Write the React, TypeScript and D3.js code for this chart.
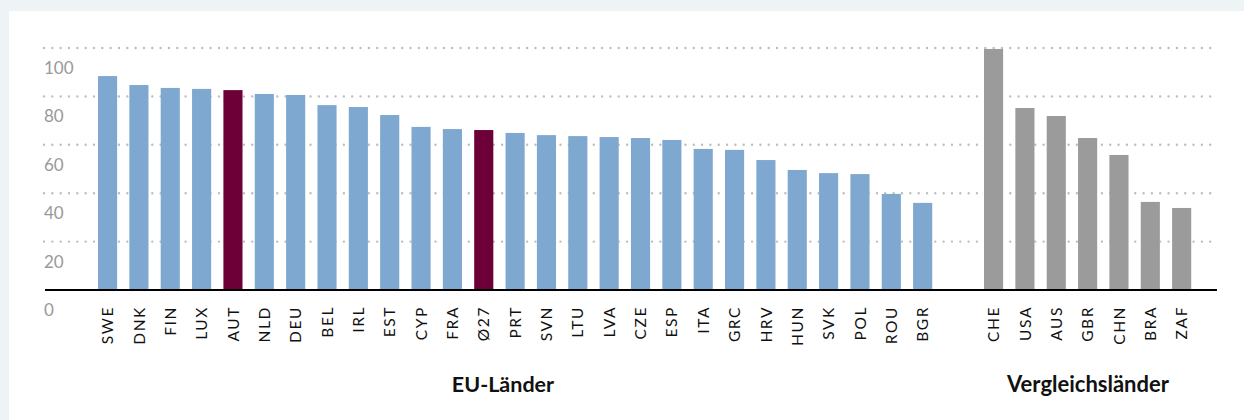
import React, { useEffect } from "react";
import * as d3 from "d3";

const euCountries = ["SWE","DNK","FIN","LUX","AUT","NLD","DEU","BEL","IRL","EST","CYP","FRA","Ø27","PRT","SVN","LTU","LVA","CZE","ESP","ITA","GRC","HRV","HUN","SVK","POL","ROU","BGR"];
const euValues = [88.4,84.7,83.5,83.1,82.6,81.0,80.6,76.4,75.6,72.3,67.4,66.5,66.1,64.9,64.0,63.6,63.2,62.8,62.0,58.3,57.9,53.7,49.6,48.3,47.9,39.7,36.0];
const highlighted = ["AUT","Ø27"];
const cmpCountries = ["CHE","USA","AUS","GBR","CHN","BRA","ZAF"];
const cmpValues = [99.6,75.2,71.9,62.8,55.8,36.4,33.9];
const yTicks = [0,20,40,60,80,100];
const groupLabels = ["EU-Länder","Vergleichsländer"];

const W = 1244, H = 420;
const FONT = "Lato, 'Noto Sans', sans-serif";

export default function App() {
  useEffect(() => {
    document.body.style.margin = "0";
  }, []);

  const y = d3.scaleLinear().domain([0, 100]).range([290, 48]);
  const step = 31.35;
  const pad = 0.39;
  const xEU = d3.scaleBand<string>().domain(euCountries)
    .range([98 - (step * pad) / 2, 98 - (step * pad) / 2 + euCountries.length * step])
    .paddingInner(pad).paddingOuter(pad / 2);
  const xCmp = d3.scaleBand<string>().domain(cmpCountries)
    .range([984 - (step * pad) / 2, 984 - (step * pad) / 2 + cmpCountries.length * step])
    .paddingInner(pad).paddingOuter(pad / 2);

  const gridX0 = 44, gridX1 = 1218;

  const bars = [
    ...euCountries.map((c, i) => ({ c, v: euValues[i], x: xEU(c)!, bw: xEU.bandwidth(), fill: highlighted.includes(c) ? "#6e0038" : "#7fa8d0" })),
    ...cmpCountries.map((c, i) => ({ c, v: cmpValues[i], x: xCmp(c)!, bw: xCmp.bandwidth(), fill: "#9b9b9b" })),
  ];

  return (
    <svg width={W} height={H} style={{ display: "block" }} fontFamily={FONT}>
      <rect x={0} y={0} width={W} height={H} fill="#eef3f6" />
      <rect x={9} y={11} width={W - 9} height={H - 11} fill="#ffffff" />
      {yTicks.filter(t => t > 0).map(t => (
        <line key={"g" + t} x1={gridX0} x2={gridX1} y1={y(t)} y2={y(t)}
          stroke="#bdbdbd" strokeWidth={2.4} strokeDasharray="0 8.33" strokeLinecap="round" />
      ))}
      {yTicks.map(t => (
        <text key={"t" + t} x={44} y={y(t) + 26} fontSize={17} fill="#999999">{t}</text>
      ))}
      {bars.map(b => (
        <rect key={b.c} x={b.x} width={b.bw} y={y(b.v)} height={y(0) - y(b.v)} fill={b.fill} />
      ))}
      <line x1={45} x2={1217} y1={y(0)} y2={y(0)} stroke="#000" strokeWidth={2} />
      {bars.map(b => (
        <text key={"l" + b.c} transform={`translate(${b.x + b.bw / 2},306) rotate(-90)`}
          textAnchor="end" dy="0.36em" fontSize={15.5} letterSpacing={1.6} fill="#111">{b.c}</text>
      ))}
      <text x={503} y={392} textAnchor="middle" fontSize={21.5} fontWeight={700} fill="#111">{groupLabels[0]}</text>
      <text x={1088} y={392} textAnchor="middle" fontSize={22} fontWeight={700} fill="#111">{groupLabels[1]}</text>
    </svg>
  );
}
